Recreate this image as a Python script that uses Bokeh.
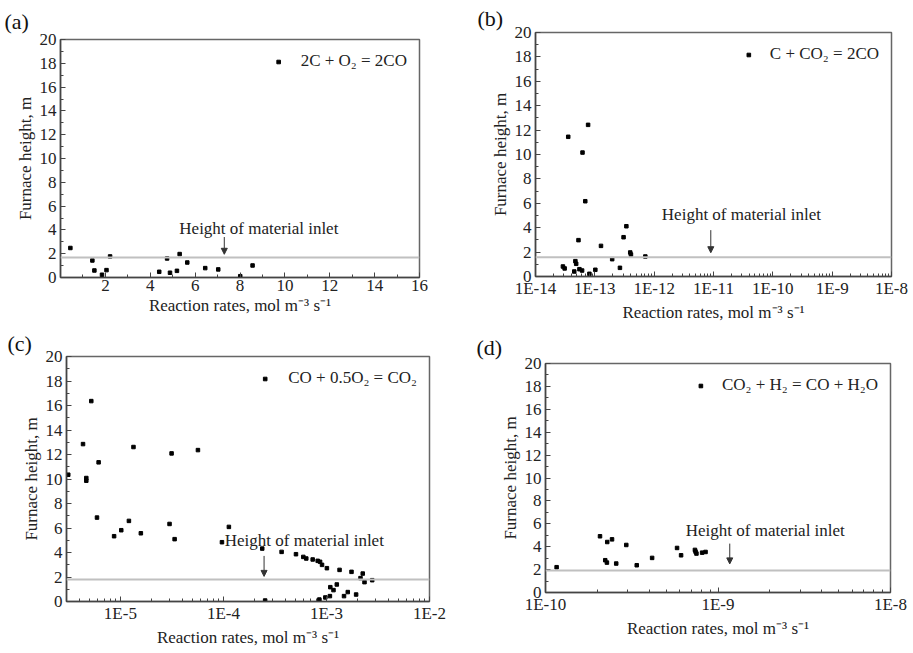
from bokeh.plotting import figure
from bokeh.layouts import column, row
from bokeh.models import (Range1d, FixedTicker, CustomJSTickFormatter, Span, Arrow,
                          NormalHead, Label, Legend, LegendItem)
from bokeh.embed import file_html
from bokeh.resources import INLINE

# ---------------- data ----------------
a_rate = [0.44, 1.42, 1.51, 1.85, 2.05, 2.21, 4.40, 4.75, 4.88, 5.19, 5.31, 5.65, 6.45, 7.03, 8.01, 8.56]
a_height = [2.48, 1.43, 0.59, 0.23, 0.62, 1.77, 0.48, 1.60, 0.40, 0.56, 1.97, 1.26, 0.79, 0.68, 0.11, 1.01]

b_rate = [2.9e-14, 3.1e-14, 3.56e-14, 4.5e-14, 4.7e-14, 4.85e-14, 5.3e-14, 5.5e-14, 6.1e-14, 6.2e-14,
          6.9e-14, 7.7e-14, 8.1e-14, 1.02e-13, 1.27e-13, 1.96e-13, 2.65e-13, 3.05e-13, 3.4e-13,
          3.95e-13, 4.06e-13, 7.1e-13]
b_height = [0.82, 0.66, 11.45, 0.41, 1.26, 1.04, 2.98, 0.60, 0.49, 10.16,
            6.17, 12.43, 0.22, 0.55, 2.51, 1.42, 0.71, 3.22, 4.12,
            1.97, 1.80, 1.64]

c_rate = [3.12e-6, 4.34e-6, 4.67e-6, 4.67e-6, 5.22e-6, 5.93e-6, 6.15e-6, 8.69e-6, 1.02e-5, 1.21e-5,
          1.34e-5, 1.58e-5, 3.0e-5, 3.14e-5, 3.36e-5, 5.66e-5, 9.68e-5, 1.13e-4, 2.38e-4, 2.54e-4,
          3.67e-4, 5.06e-4, 5.96e-4, 6.37e-4, 7.35e-4, 8.22e-4, 8.67e-4, 9.06e-4, 1.01e-3, 1.34e-3,
          1.75e-3, 2.25e-3, 2.14e-3, 2.34e-3, 2.78e-3, 8.53e-4, 9.75e-4, 1.08e-3, 1.09e-3, 1.17e-3,
          1.26e-3, 1.48e-3, 1.61e-3, 1.94e-3]
c_height = [10.35, 12.85, 10.08, 9.86, 16.36, 6.85, 11.36, 5.33, 5.82, 6.58,
            12.61, 5.57, 6.33, 12.09, 5.09, 12.36, 4.84, 6.09, 4.32, 0.08,
            4.05, 3.86, 3.64, 3.51, 3.43, 3.32, 3.24, 2.99, 2.72, 2.58,
            2.42, 2.28, 1.91, 1.58, 1.74, 0.16, 0.33, 0.44, 1.17, 0.93,
            1.39, 0.44, 0.77, 0.57]

d_rate = [1.16e-10, 2.07e-10, 2.22e-10, 2.27e-10, 2.28e-10, 2.43e-10, 2.57e-10, 2.94e-10, 3.38e-10,
          4.15e-10, 5.79e-10, 6.11e-10, 7.35e-10, 7.41e-10, 7.5e-10, 8.09e-10, 8.47e-10]
d_height = [2.21, 4.91, 2.82, 2.61, 4.41, 4.64, 2.53, 4.15, 2.38,
            3.02, 3.89, 3.25, 3.72, 3.57, 3.40, 3.48, 3.54]

inlet_heights = [1.69, 1.58, 1.80, 1.92]
reactions = ["2C + O\u2082 = 2CO", "C + CO\u2082 = 2CO", "CO + 0.5O\u2082 = CO\u2082",
             "CO\u2082 + H\u2082 = CO + H\u2082O"]
panel_names = ["(a)", "(b)", "(c)", "(d)"]
y_ticks = list(range(0, 21, 2))
y_minor = list(range(1, 20, 2))
a_ticks = list(range(2, 17, 2))
a_minor = list(range(1, 16, 2))

FONT = "Liberation Serif"
XLABEL = "Reaction rates, mol m\u207b\u00b3 s\u207b\u00b9"
YLABEL = "Furnace height, m"


def log_ticks(e0, e1):
    major = [10.0 ** e for e in range(e0, e1 + 1)]
    minor = [k * 10.0 ** e for e in range(e0 - 1, e1) for k in range(2, 10)]
    return major, minor


def make_panel(idx, x, y, xrange, xlog, w, h, borders, xticks, xminor,
               arrow_x, arrow_y0, arrow_y1, text_x, text_y, lab_off, lab_standoff,
               leg_standoff):
    left, right, top, bottom = borders
    p = figure(width=w, height=h, output_backend="svg", toolbar_location=None,
               x_axis_type="log" if xlog else "linear",
               x_range=Range1d(*xrange), y_range=Range1d(0, 20),
               min_border_left=left, min_border_right=right,
               min_border_top=top, min_border_bottom=bottom)
    p.grid.visible = False
    p.outline_line_color = "#666666"
    p.outline_line_width = 1.5
    p.background_fill_color = "white"
    p.border_fill_color = "white"

    # panel letter as the figure title
    p.title.text = panel_names[idx]
    p.title.align = "left"
    p.title.offset = lab_off
    p.title.standoff = lab_standoff
    p.title.text_font = FONT
    p.title.text_font_size = "22px"
    p.title.text_font_style = "normal"
    p.title.text_color = "#111111"

    p.yaxis.ticker = FixedTicker(ticks=y_ticks, minor_ticks=y_minor)
    p.xaxis.ticker = FixedTicker(ticks=xticks, minor_ticks=xminor)
    if xlog:
        p.xaxis.formatter = CustomJSTickFormatter(
            code="return '1E' + Math.round(Math.log10(tick));")

    for ax in (p.xaxis[0], p.yaxis[0]):
        ax.major_tick_in = 5
        ax.major_tick_out = 0
        ax.minor_tick_in = 3
        ax.minor_tick_out = 0
        ax.axis_line_color = "#444444"
        ax.axis_line_width = 1.5
        ax.major_tick_line_color = "#444444"
        ax.minor_tick_line_color = "#444444"
        ax.major_label_text_font = FONT
        ax.major_label_text_font_size = "17px"
        ax.major_label_text_color = "#222222"
        ax.axis_label_text_font = FONT
        ax.axis_label_text_font_size = "17px"
        ax.axis_label_text_font_style = "normal"
        ax.axis_label_text_color = "#222222"
    p.xaxis.axis_label = XLABEL
    p.yaxis.axis_label = YLABEL
    p.xaxis.major_label_standoff = 2
    p.xaxis.axis_label_standoff = 2
    p.yaxis.major_label_standoff = 4
    p.yaxis.axis_label_standoff = 2

    p.add_layout(Span(location=inlet_heights[idx], dimension="width",
                      line_color="#c0c0c0", line_width=2))

    r = p.scatter(x, y, marker="square", size=3.5, color="black")

    p.add_layout(Arrow(end=NormalHead(size=6, fill_color="#333333", line_color="#333333"),
                       x_start=arrow_x, y_start=arrow_y0, x_end=arrow_x, y_end=arrow_y1,
                       line_color="#333333", line_width=1))
    p.add_layout(Label(x=text_x, y=text_y, text="Height of material inlet",
                       text_font=FONT, text_font_size="17px", text_color="#222222",
                       text_align="center", text_baseline="middle"))

    legend = Legend(items=[LegendItem(label=reactions[idx], renderers=[r])],
                    location="top_right", border_line_alpha=0, background_fill_alpha=0,
                    label_text_font=FONT, label_text_font_size="17px",
                    label_text_color="#222222",
                    glyph_width=9, glyph_height=9, label_standoff=leg_standoff,
                    margin=10, padding=2)
    p.add_layout(legend)
    return p


bt, bm = log_ticks(-14, -8)
ct, cm = log_ticks(-5, -2)
dt, dm = log_ticks(-10, -8)

pa = make_panel(0, a_rate, a_height, (0, 16), False, 456, 327, (60, 37, 39, 50),
                a_ticks, a_minor, 7.3, 3.4, 1.95, 8.84, 4.13, -56, 11, 18)
pb = make_panel(1, b_rate, b_height, (1e-14, 1e-8), True, 457, 327, (79, 22, 32, 51),
                bt, bm, 9e-12, 3.8, 1.95, 2.95e-11, 5.05, -58, 3, 17)
pc = make_panel(2, c_rate, c_height, (3e-6, 1e-2), True, 456, 326, (66, 27, 28, 52),
                ct, cm, 2.48e-4, 3.72, 2.05, 6.1e-4, 4.95, -59, 2, 19)
pd = make_panel(3, d_rate, d_height, (1e-10, 1e-8), True, 457, 326, (89, 23, 36, 61),
                dt, dm, 1.17e-9, 4.27, 2.5, 1.88e-9, 5.43, -69, 8, 17)

# wrap each figure on its own so that the rows do not align their frames
layout = column(row(column(pa), column(pb)), row(column(pc), column(pd)))
open("out.html", "w").write(file_html(layout, INLINE))
